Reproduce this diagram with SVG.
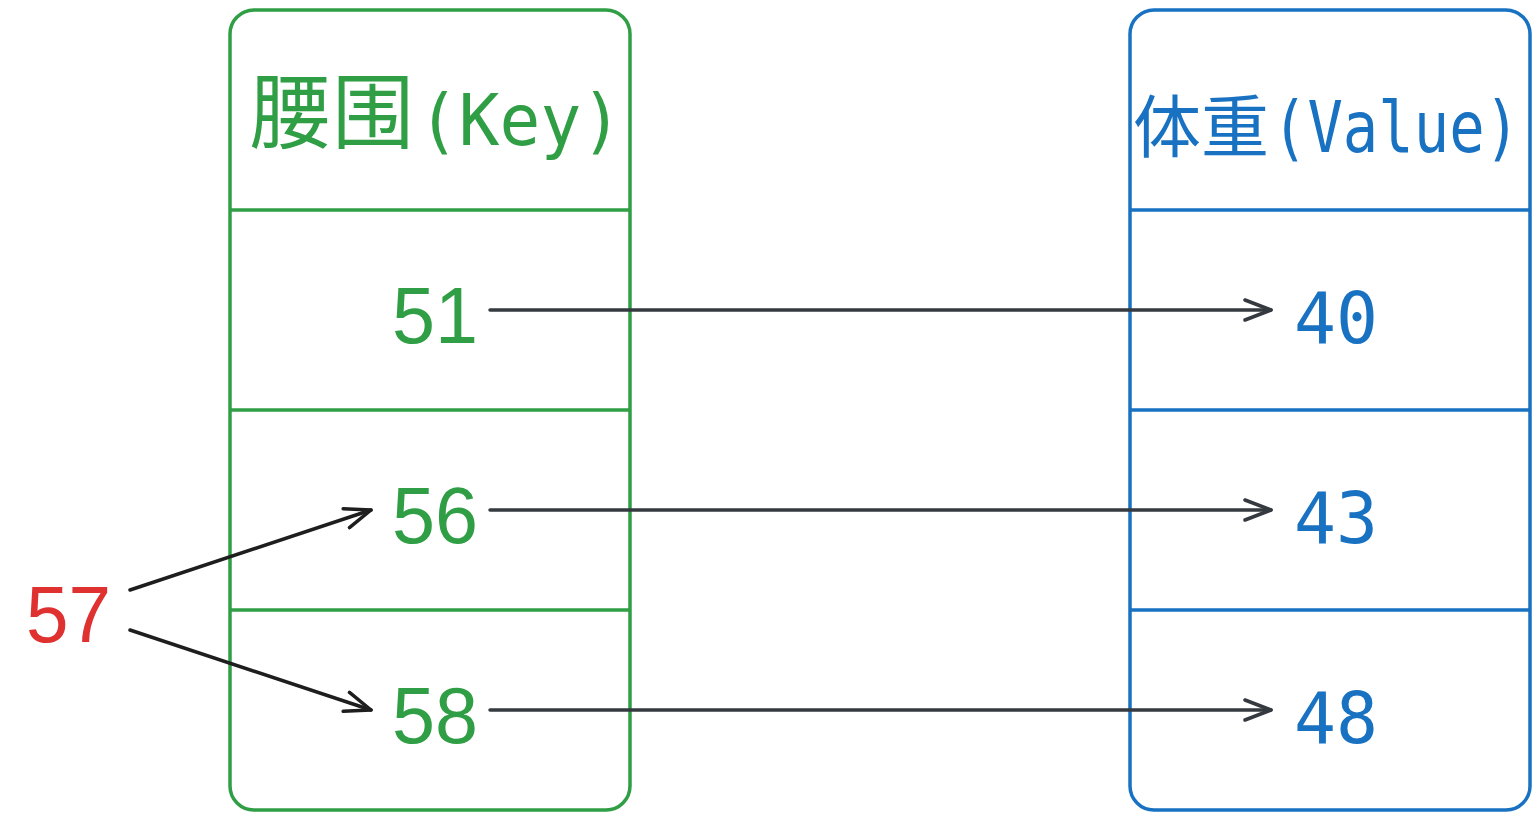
<svg xmlns="http://www.w3.org/2000/svg" width="1540" height="820" viewBox="0 0 1540 820">
<style>
.box{fill:none;stroke-width:3.5}
.g{stroke:#2f9e44}
.b{stroke:#1971c2}
.gt{fill:#2f9e44}
.bt{fill:#1971c2}
.num{font-family:"Liberation Sans","DejaVu Sans",sans-serif;font-size:80px}
.mono{font-family:"DejaVu Sans Mono","Liberation Mono",monospace;font-size:72px}
.cjk{font-family:"Liberation Sans","Noto Sans CJK SC",sans-serif}
.conn{fill:none;stroke-width:3.5;stroke-linecap:round}
</style>
<defs>
<marker id="arrD" viewBox="0 0 30 24" refX="28" refY="12" markerWidth="30" markerHeight="24" markerUnits="userSpaceOnUse" orient="auto">
<path d="M2,2 L28,12 L2,22" fill="none" stroke="#343a40" stroke-width="3.5" stroke-linecap="round" stroke-linejoin="round"/>
</marker>
<marker id="arrK" viewBox="0 0 30 24" refX="28" refY="12" markerWidth="30" markerHeight="24" markerUnits="userSpaceOnUse" orient="auto">
<path d="M2,2 L28,12 L2,22" fill="none" stroke="#1e1e1e" stroke-width="3.5" stroke-linecap="round" stroke-linejoin="round"/>
</marker>
</defs>
<rect width="1540" height="820" fill="#ffffff"/>
<g id="key-table">
<rect class="box g" x="230" y="10" width="400" height="800" rx="24"/>
<line class="g" stroke-width="3.5" x1="230" y1="210" x2="630" y2="210"/>
<line class="g" stroke-width="3.5" x1="230" y1="410" x2="630" y2="410"/>
<line class="g" stroke-width="3.5" x1="230" y1="610" x2="630" y2="610"/>
<text class="gt cjk" x="250" y="142" font-size="82"><tspan font-family="Noto Sans CJK SC">腰围</tspan><tspan class="mono" font-size="76" x="418" y="145" textLength="204" lengthAdjust="spacingAndGlyphs">(Key)</tspan></text>
</g>
<g id="k51"><text class="gt num" x="392" y="343" textLength="86" lengthAdjust="spacingAndGlyphs">51</text></g>
<g id="k56"><text class="gt num" x="392" y="543" textLength="86" lengthAdjust="spacingAndGlyphs">56</text></g>
<g id="k58"><text class="gt num" x="392" y="743" textLength="86" lengthAdjust="spacingAndGlyphs">58</text></g>
<g id="value-table">
<rect class="box b" x="1130" y="10" width="400" height="800" rx="24"/>
<line class="b" stroke-width="3.5" x1="1130" y1="210" x2="1530" y2="210"/>
<line class="b" stroke-width="3.5" x1="1130" y1="410" x2="1530" y2="410"/>
<line class="b" stroke-width="3.5" x1="1130" y1="610" x2="1530" y2="610"/>
<text class="bt" x="1133" y="152" font-size="68"><tspan font-family="Noto Sans CJK SC">体重</tspan><tspan class="mono" font-size="66" x="1272" textLength="248" lengthAdjust="spacingAndGlyphs">(Value)</tspan></text>
</g>
<g id="v40"><text class="bt mono" x="1294" y="343" font-size="80" textLength="84" lengthAdjust="spacingAndGlyphs">40</text></g>
<g id="v43"><text class="bt mono" x="1294" y="543" font-size="80" textLength="84" lengthAdjust="spacingAndGlyphs">43</text></g>
<g id="v48"><text class="bt mono" x="1294" y="743" font-size="80" textLength="84" lengthAdjust="spacingAndGlyphs">48</text></g>
<g id="q57"><text class="num" fill="#e03131" x="26" y="642" textLength="85" lengthAdjust="spacingAndGlyphs">57</text></g>
<g id="connectors">
<line class="conn" stroke="#343a40" x1="490" y1="310" x2="1271" y2="310" marker-end="url(#arrD)"/>
<line class="conn" stroke="#343a40" x1="490" y1="510" x2="1271" y2="510" marker-end="url(#arrD)"/>
<line class="conn" stroke="#343a40" x1="490" y1="710" x2="1271" y2="710" marker-end="url(#arrD)"/>
<line class="conn" stroke="#1e1e1e" x1="130" y1="590" x2="371" y2="510" marker-end="url(#arrK)"/>
<line class="conn" stroke="#1e1e1e" x1="130" y1="630" x2="371" y2="710" marker-end="url(#arrK)"/>
</g>
</svg>
